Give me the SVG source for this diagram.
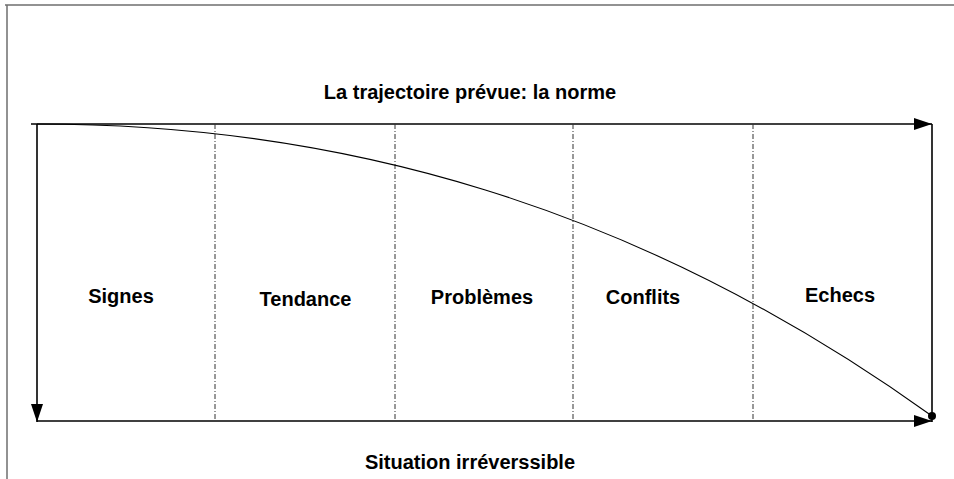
<svg xmlns="http://www.w3.org/2000/svg" width="954" height="479" viewBox="0 0 954 479">
<style>
.frame{stroke:#6e6e6e;stroke-width:1.5;fill:none}
.axis{stroke:#000;stroke-width:1.6;fill:none}
.div{stroke:#333;stroke-width:1;stroke-dasharray:5 2 1 2;fill:none}
.curve{stroke:#000;stroke-width:1.1;fill:none}
.lbl{font-family:"Liberation Sans",Arial,sans-serif;font-weight:bold;font-size:20px;fill:#000;text-anchor:middle}
</style>
<defs>
<marker id="ah" markerWidth="18" markerHeight="12" refX="18" refY="6" orient="auto" markerUnits="userSpaceOnUse">
<path d="M0,0 L18,6 L0,12 Z" fill="#000"/>
</marker>
</defs>
<g id="frame">
<line class="frame" x1="5" y1="5" x2="954" y2="5"/>
<line class="frame" x1="7" y1="5" x2="7" y2="479"/>
</g>
<g id="connectors">
<line class="axis" x1="31" y1="124" x2="932" y2="124" marker-end="url(#ah)"/>
<line class="axis" x1="37" y1="124" x2="37" y2="422" marker-end="url(#ah)"/>
<line class="axis" x1="37" y1="421" x2="932" y2="421" marker-end="url(#ah)"/>
<line class="axis" x1="932" y1="124" x2="932" y2="422"/>
<line class="div" x1="215" y1="124" x2="215" y2="421"/>
<line class="div" x1="395" y1="124" x2="395" y2="421"/>
<line class="div" x1="573" y1="124" x2="573" y2="421"/>
<line class="div" x1="753" y1="124" x2="753" y2="421"/>
<path class="curve" d="M37,124 C335.3,124 633.7,202 932,416"/>
<circle cx="932" cy="416" r="4" fill="#000"/>
</g>
<g id="title"><text class="lbl" x="470" y="99">La trajectoire prévue: la norme</text></g>
<g id="signes"><text class="lbl" x="121" y="303">Signes</text></g>
<g id="tendance"><text class="lbl" x="305.5" y="306">Tendance</text></g>
<g id="problemes"><text class="lbl" x="482" y="304">Problèmes</text></g>
<g id="conflits"><text class="lbl" x="643" y="304">Conflits</text></g>
<g id="echecs"><text class="lbl" x="840" y="302">Echecs</text></g>
<g id="bottom"><text class="lbl" x="470" y="469">Situation irréverssible</text></g>
</svg>
